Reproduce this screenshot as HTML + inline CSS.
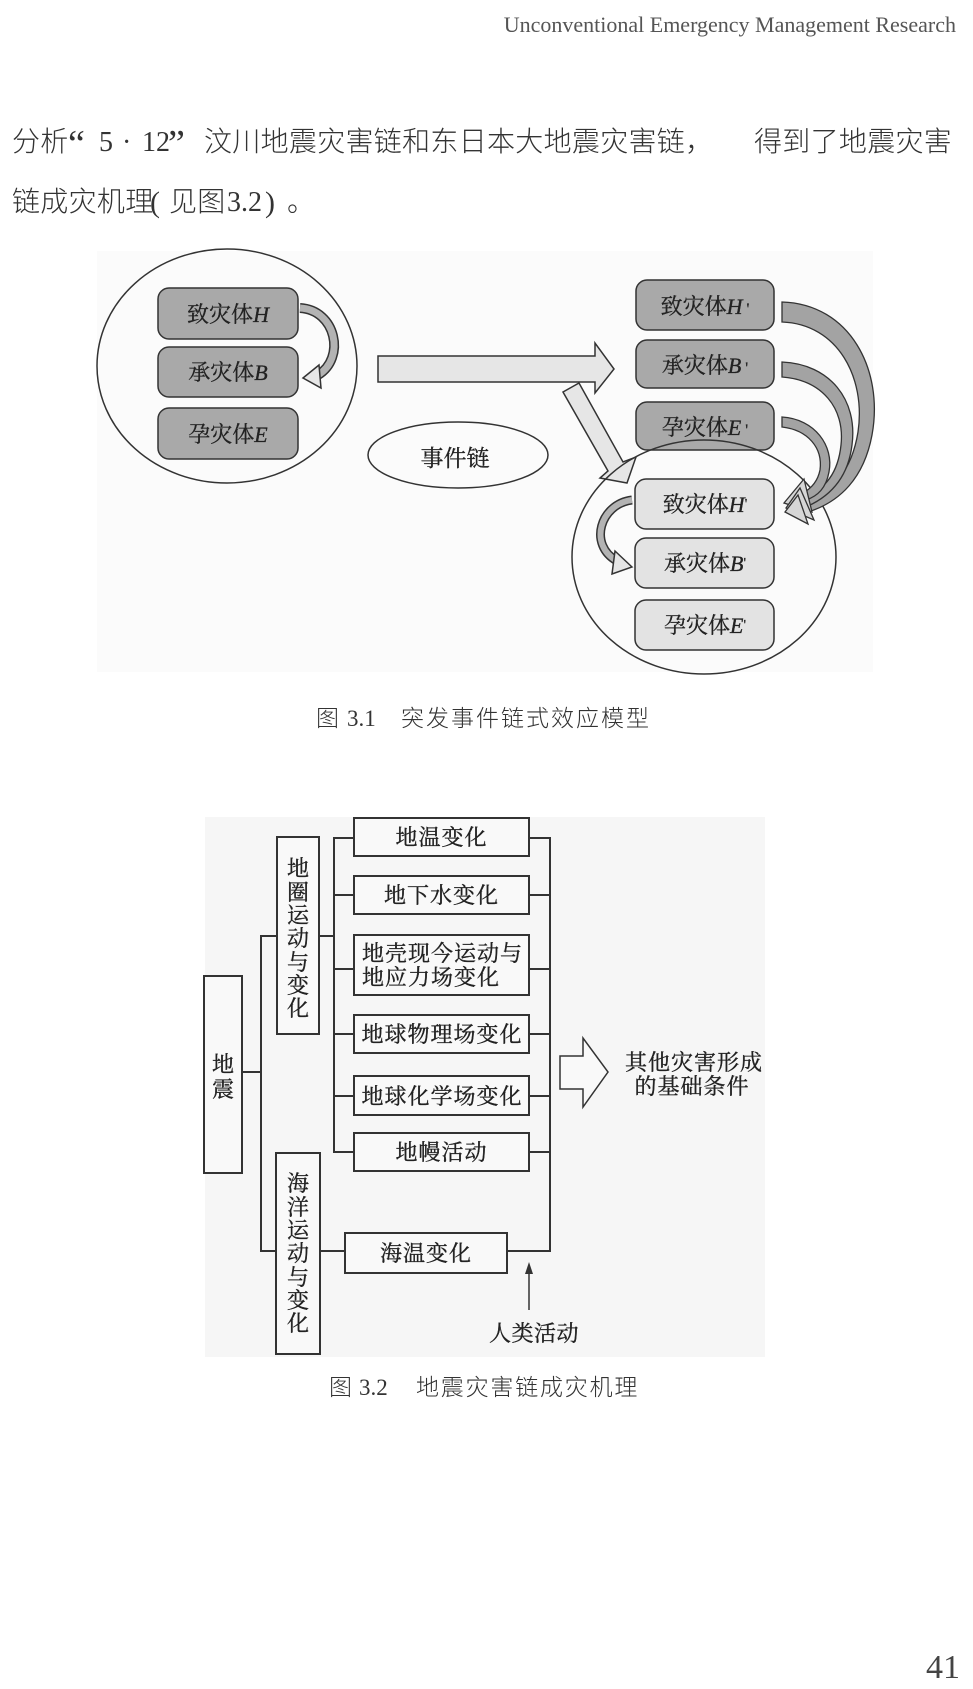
<!DOCTYPE html>
<html>
<head>
<meta charset="utf-8">
<style>
  html,body{margin:0;padding:0;background:#ffffff;}
  body{width:973px;height:1689px;overflow:hidden;}
  svg{display:block;}
  .sans{font-family:"Liberation Sans","Noto Sans CJK SC",sans-serif;font-weight:300;}
  .serifL{font-family:"Liberation Serif","Noto Sans CJK SC",serif;}
  .fig{font-family:"Liberation Serif","Noto Serif CJK SC",serif;}
</style>
</head>
<body>
<svg width="973" height="1689" viewBox="0 0 973 1689" xmlns="http://www.w3.org/2000/svg">
  <rect x="0" y="0" width="973" height="1689" fill="#ffffff"/>

  <!-- Header -->
  <text x="956" y="32" text-anchor="end" class="serifL" font-size="22" fill="#555">Unconventional Emergency Management Research</text>

  <!-- Body paragraph line 1 -->
  <g fill="#333" font-size="28">
    <text x="12" y="151" class="sans" letter-spacing="0.3">分析</text>
    <text x="68" y="156" class="serifL" font-size="38">“</text>
    <text x="99" y="151" class="serifL">5</text>
    <text x="122" y="151" class="serifL">·</text>
    <text x="142" y="151" class="serifL">12</text>
    <text x="168" y="156" class="serifL" font-size="38">”</text>
    <text x="204" y="151" class="sans" letter-spacing="0.3">汶川地震灾害链和东日本大地震灾害链，</text>
    <text x="754" y="151" class="sans" letter-spacing="0.3">得到了地震灾害</text>
    <!-- line 2 -->
    <text x="12" y="211" class="sans" letter-spacing="0.3">链成灾机理</text>
    <text x="150" y="212" class="serifL" font-size="30">(</text>
    <text x="169" y="211" class="sans" letter-spacing="0.3">见图</text>
    <text x="227" y="211" class="serifL">3.2</text>
    <text x="265" y="212" class="serifL" font-size="30">)</text>
    <text x="287" y="211" class="sans">。</text>
  </g>

  <!-- ================= Figure 3.1 ================= -->
  <rect x="97" y="251" width="776" height="421" fill="#fbfbfb"/>

  <!-- left circle -->
  <ellipse cx="227" cy="366" rx="130" ry="117" fill="none" stroke="#333" stroke-width="1.5"/>
  <!-- left boxes -->
  <rect x="158" y="288" width="140" height="51" rx="11" fill="#a9a9a9" stroke="#333" stroke-width="1.5"/>
  <rect x="158" y="347" width="140" height="50" rx="11" fill="#a9a9a9" stroke="#333" stroke-width="1.5"/>
  <rect x="158" y="408" width="140" height="51" rx="11" fill="#a9a9a9" stroke="#333" stroke-width="1.5"/>
  <g class="fig" font-size="22" fill="#222" stroke="#222" stroke-width="0.3" text-anchor="middle">
    <text x="228" y="322">致灾体<tspan class="serifL" font-style="italic">H</tspan></text>
    <text x="228" y="380">承灾体<tspan class="serifL" font-style="italic">B</tspan></text>
    <text x="228" y="442">孕灾体<tspan class="serifL" font-style="italic">E</tspan></text>
  </g>
  <!-- small curved arrow H -> B (left) -->
  <path d="M 300 308 C 336 310, 346 358, 318 375" fill="none" stroke="#333" stroke-width="10"/>
  <path d="M 300 308 C 336 310, 346 358, 318 375" fill="none" stroke="#b3b3b3" stroke-width="7"/>
  <polygon points="303,378 319,365 321,388" fill="#e6e6e6" stroke="#333" stroke-width="1.5"/>

  <!-- horizontal block arrow -->
  <polygon points="378,356 595,356 595,343 614,369 595,393 595,382 378,382" fill="#e6e6e6" stroke="#333" stroke-width="1.5"/>
  <!-- diagonal block arrow -->
  <polygon points="563,392 579,383 623,462 636,457 627,483 600,478 608,471" fill="#e6e6e6" stroke="#333" stroke-width="1.5"/>

  <!-- event chain ellipse -->
  <ellipse cx="458" cy="455" rx="90" ry="33" fill="none" stroke="#333" stroke-width="1.5"/>
  <text x="455" y="466" text-anchor="middle" class="fig" font-size="23" fill="#222" stroke="#222" stroke-width="0.3">事件链</text>

  <!-- upper right boxes -->
  <rect x="636" y="280" width="138" height="50" rx="11" fill="#a9a9a9" stroke="#333" stroke-width="1.5"/>
  <rect x="636" y="340" width="138" height="48" rx="11" fill="#a9a9a9" stroke="#333" stroke-width="1.5"/>
  <rect x="636" y="402" width="138" height="48" rx="11" fill="#a9a9a9" stroke="#333" stroke-width="1.5"/>
  <g class="fig" font-size="22" fill="#222" stroke="#222" stroke-width="0.3" text-anchor="middle">
    <text x="705" y="314">致灾体<tspan class="serifL" font-style="italic">H</tspan><tspan class="serifL" font-size="16"> '</tspan></text>
    <text x="705" y="373">承灾体<tspan class="serifL" font-style="italic">B</tspan><tspan class="serifL" font-size="16"> '</tspan></text>
    <text x="705" y="435">孕灾体<tspan class="serifL" font-style="italic">E</tspan><tspan class="serifL" font-size="16"> '</tspan></text>
  </g>

  <!-- lower circle -->
  <ellipse cx="704" cy="557" rx="132" ry="117" fill="none" stroke="#333" stroke-width="1.5"/>
  <!-- lower boxes -->
  <rect x="635" y="479" width="139" height="50" rx="11" fill="#e3e3e3" stroke="#333" stroke-width="1.5"/>
  <rect x="635" y="538" width="139" height="50" rx="11" fill="#e3e3e3" stroke="#333" stroke-width="1.5"/>
  <rect x="635" y="600" width="139" height="50" rx="11" fill="#e3e3e3" stroke="#333" stroke-width="1.5"/>
  <g class="fig" font-size="22" fill="#222" stroke="#222" stroke-width="0.3" text-anchor="middle">
    <text x="705" y="512">致灾体<tspan class="serifL" font-style="italic">H</tspan><tspan class="serifL" font-size="14" dy="-4">'</tspan></text>
    <text x="705" y="571">承灾体<tspan class="serifL" font-style="italic">B</tspan><tspan class="serifL" font-size="14" dy="-4">'</tspan></text>
    <text x="705" y="633">孕灾体<tspan class="serifL" font-style="italic">E</tspan><tspan class="serifL" font-size="14" dy="-4">'</tspan></text>
  </g>
  <!-- lower small curved arrow H' -> B' -->
  <path d="M 632 500 C 600 504, 588 545, 617 561" fill="none" stroke="#333" stroke-width="9"/>
  <path d="M 632 500 C 600 504, 588 545, 617 561" fill="none" stroke="#b3b3b3" stroke-width="6"/>
  <polygon points="632,567 615,551 612,574" fill="#e6e6e6" stroke="#333" stroke-width="1.5"/>

  <!-- big curved tapered arrows -->
  <path d="M 782 302 C 850 304, 884 370, 872 435 C 864 478, 840 502, 808 512 L 804 502 C 832 494, 852 470, 858 432 C 866 378, 838 324, 782 322 Z" fill="#a3a3a3" stroke="#333" stroke-width="1.3"/>
  <path d="M 782 362 C 830 364, 858 400, 852 445 C 848 478, 830 496, 808 506 L 804 497 C 824 490, 838 474, 841 445 C 845 408, 822 380, 782 377 Z" fill="#a3a3a3" stroke="#333" stroke-width="1.3"/>
  <path d="M 782 417 C 815 419, 834 446, 829 472 C 826 488, 818 496, 806 500 L 803 493 C 812 488, 818 480, 820 470 C 823 448, 808 430, 782 427 Z" fill="#a3a3a3" stroke="#333" stroke-width="1.3"/>
  <polygon points="784,503 804,479 812,512" fill="#d6d6d6" stroke="#333" stroke-width="1.3"/>
  <polygon points="786,508 800,488 814,520" fill="#d6d6d6" stroke="#333" stroke-width="1.3"/>
  <polygon points="785,512 798,495 808,524" fill="#d6d6d6" stroke="#333" stroke-width="1.3"/>

  <!-- Caption 3.1 -->
  <g fill="#333" font-size="23">
    <text x="316" y="726" class="sans">图</text>
    <text x="347" y="726" class="serifL">3.1</text>
    <text x="401" y="726" class="sans" letter-spacing="2">突发事件链式效应模型</text>
  </g>

  <!-- ================= Figure 3.2 ================= -->
  <rect x="205" y="817" width="560" height="540" fill="#f6f6f6"/>

  <g stroke="#333" stroke-width="2" fill="none">
    <line x1="242" y1="1072" x2="261" y2="1072"/>
    <line x1="261" y1="935" x2="261" y2="1252"/>
    <line x1="261" y1="936" x2="277" y2="936"/>
    <line x1="261" y1="1251" x2="276" y2="1251"/>
    <line x1="319" y1="936" x2="334" y2="936"/>
    <line x1="334" y1="837" x2="334" y2="1153"/>
    <line x1="334" y1="838" x2="354" y2="838"/>
    <line x1="334" y1="895" x2="354" y2="895"/>
    <line x1="334" y1="969" x2="354" y2="969"/>
    <line x1="334" y1="1034" x2="354" y2="1034"/>
    <line x1="334" y1="1096" x2="354" y2="1096"/>
    <line x1="334" y1="1152" x2="354" y2="1152"/>
    <line x1="529" y1="838" x2="550" y2="838"/>
    <line x1="529" y1="895" x2="550" y2="895"/>
    <line x1="529" y1="969" x2="550" y2="969"/>
    <line x1="529" y1="1034" x2="550" y2="1034"/>
    <line x1="529" y1="1096" x2="550" y2="1096"/>
    <line x1="529" y1="1152" x2="550" y2="1152"/>
    <line x1="550" y1="837" x2="550" y2="1252"/>
    <line x1="320" y1="1251" x2="345" y2="1251"/>
    <line x1="507" y1="1251" x2="550" y2="1251"/>
  </g>

  <g stroke="#333" stroke-width="2" fill="#f9f9f9">
    <rect x="204" y="976" width="38" height="197"/>
    <rect x="277" y="837" width="42" height="197"/>
    <rect x="276" y="1153" width="44" height="201"/>
    <rect x="354" y="818" width="175" height="38"/>
    <rect x="354" y="876" width="175" height="38"/>
    <rect x="354" y="935" width="175" height="60"/>
    <rect x="354" y="1015" width="175" height="38"/>
    <rect x="354" y="1076" width="175" height="39"/>
    <rect x="354" y="1133" width="175" height="38"/>
    <rect x="345" y="1233" width="162" height="40"/>
  </g>

  <g class="fig" font-size="22" fill="#222" stroke="#222" stroke-width="0.35">
    <text x="441.5" y="845" text-anchor="middle" letter-spacing="1">地温变化</text>
    <text x="441.5" y="903" text-anchor="middle" letter-spacing="1">地下水变化</text>
    <text x="362" y="961" letter-spacing="1">地壳现今运动与</text>
    <text x="362" y="985" letter-spacing="1">地应力场变化</text>
    <text x="442" y="1042" text-anchor="middle" letter-spacing="1">地球物理场变化</text>
    <text x="442" y="1104" text-anchor="middle" letter-spacing="1">地球化学场变化</text>
    <text x="441.5" y="1160" text-anchor="middle" letter-spacing="1">地幔活动</text>
    <text x="426" y="1261" text-anchor="middle" letter-spacing="1">海温变化</text>

    <!-- vertical: 地震 -->
    <text x="223" y="1072" text-anchor="middle">地</text>
    <text x="223" y="1097" text-anchor="middle">震</text>
    <!-- vertical: 地圈运动与变化 -->
    <text x="298" y="876" text-anchor="middle">地</text>
    <text x="298" y="900" text-anchor="middle">圈</text>
    <text x="298" y="923" text-anchor="middle">运</text>
    <text x="298" y="946" text-anchor="middle">动</text>
    <text x="298" y="970" text-anchor="middle">与</text>
    <text x="298" y="993" text-anchor="middle">变</text>
    <text x="298" y="1016" text-anchor="middle">化</text>
    <!-- vertical: 海洋运动与变化 -->
    <text x="298" y="1191" text-anchor="middle">海</text>
    <text x="298" y="1215" text-anchor="middle">洋</text>
    <text x="298" y="1238" text-anchor="middle">运</text>
    <text x="298" y="1261" text-anchor="middle">动</text>
    <text x="298" y="1285" text-anchor="middle">与</text>
    <text x="298" y="1308" text-anchor="middle">变</text>
    <text x="298" y="1331" text-anchor="middle">化</text>

    <text x="534" y="1341" text-anchor="middle" letter-spacing="0.5">人类活动</text>
    <text x="694" y="1070" text-anchor="middle" letter-spacing="1">其他灾害形成</text>
    <text x="692" y="1094" text-anchor="middle" letter-spacing="1">的基础条件</text>
  </g>

  <!-- hollow right arrow -->
  <polygon points="560,1056 583,1056 583,1038 608,1072 583,1107 583,1089 560,1089" fill="#f9f9f9" stroke="#333" stroke-width="1.5"/>
  <!-- up arrow from 人类活动 -->
  <line x1="529" y1="1310" x2="529" y2="1270" stroke="#333" stroke-width="1.5"/>
  <polygon points="529,1262 525,1274 533,1274" fill="#333"/>

  <!-- Caption 3.2 -->
  <g fill="#333" font-size="23">
    <text x="329" y="1395" class="sans">图</text>
    <text x="359" y="1395" class="serifL">3.2</text>
    <text x="416" y="1395" class="sans" letter-spacing="1.8">地震灾害链成灾机理</text>
  </g>

  <!-- page number -->
  <text x="960" y="1678" text-anchor="end" class="serifL" font-size="34" fill="#444">41</text>
</svg>
</body>
</html>
